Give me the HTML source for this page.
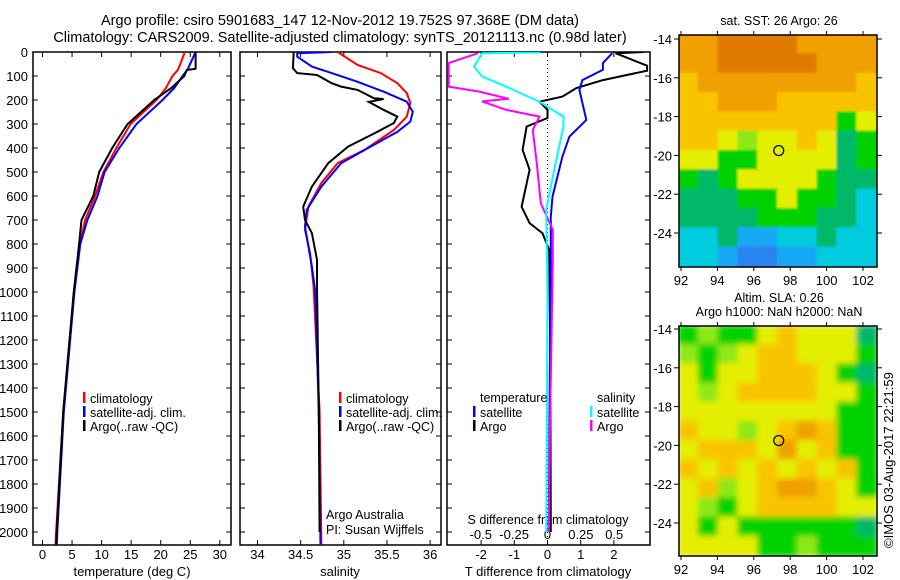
<!DOCTYPE html>
<html><head><meta charset="utf-8">
<style>
html,body{margin:0;padding:0;background:#fff;}
svg{display:block;font-family:"Liberation Sans",sans-serif;}
</style></head>
<body>
<svg id="fig" width="900" height="580" viewBox="0 0 900 580" xmlns="http://www.w3.org/2000/svg">
<defs>
<clipPath id="c1"><rect x="33" y="52" width="198" height="493"/></clipPath>
<clipPath id="c2"><rect x="240" y="52" width="201" height="493"/></clipPath>
<clipPath id="c3"><rect x="447" y="52" width="203" height="493"/></clipPath>
<clipPath id="cm1"><rect x="679" y="35" width="198" height="232"/></clipPath>
<clipPath id="cm2"><rect x="679" y="326" width="198" height="230"/></clipPath>
<filter id="blur2"><feGaussianBlur stdDeviation="3"/></filter>
<filter id="blur1"><feGaussianBlur stdDeviation="1"/></filter>
</defs>
<text x="340" y="25" font-size="14.5" text-anchor="middle">Argo profile: csiro 5901683_147 12-Nov-2012 19.752S 97.368E (DM data)</text>
<text x="340" y="42" font-size="14.5" text-anchor="middle">Climatology: CARS2009. Satellite-adjusted climatology: synTS_20121113.nc (0.98d later)</text>
<g id="g1"></g><g id="g2"></g><g id="g3"></g><g id="gm"></g>
<text transform="translate(893,548) rotate(-90)" font-size="13">©IMOS 03-Aug-2017 22:21:59</text>
</svg>
<script>
// ---------- data ----------
const tDepth = [0,70,75,100,150,200,300,400,500,600,700,800,1000,1500,2000,2060];
const tClim  = [24.1,23.0,22.9,22.0,20.9,19.3,14.9,12.5,10.3,8.9,7.2,6.3,5.3,3.5,2.3,2.2];
const tSat   = [25.9,24.6,24.5,23.7,22.3,20.3,15.9,13.0,10.5,9.3,7.6,6.4,5.4,3.6,2.5,2.4];
const tArgo  = [25.9,25.9,24.4,24.0,21.8,18.9,14.4,11.8,9.6,8.6,6.6,6.2,5.3,3.5,2.4,2.3];

const sClimDepth = [0,54,88,130,171,212,269,325,408,463,546,644,741,838,978,1500,2060];
const sClim      = [34.93,35.16,35.43,35.62,35.73,35.77,35.73,35.58,35.24,34.93,34.74,34.59,34.55,34.61,34.65,34.72,34.74];
const sSatDepth  = [0,5,19,61,88,124,165,207,249,290,333,394,463,561,658,728,894,1000,1500,2060];
const sSat       = [34.86,34.46,34.46,34.63,34.86,35.16,35.46,35.73,35.8,35.77,35.62,35.31,34.97,34.74,34.57,34.55,34.63,34.67,34.71,34.73];
const sArgoDepth = [0,67,88,96,130,144,158,193,196,208,241,269,296,332,394,463,561,644,700,755,866,978,1500,2000];
const sArgo      = [34.42,34.41,34.46,34.69,34.86,34.97,35.16,35.35,35.46,35.29,35.46,35.62,35.58,35.39,35.05,34.82,34.63,34.53,34.55,34.63,34.69,34.69,34.71,34.72];

const dTArgoDepth = [0,5,57,78,117,150,186,207,241,275,311,408,491,645,713,755,825,1200,2000];
const dTArgo      = [2.9,2.05,3.0,3.0,1.67,0.87,0.45,-0.24,0,0,-0.63,-0.75,-0.54,-0.78,-0.54,-0.15,0.05,0.08,0.1];
const dTSatDepth  = [5,46,74,117,158,283,353,436,603,686,880,1500,2000];
const dTSat       = [1.95,1.67,1.67,1.05,0.96,1.17,0.66,0.45,0.15,0.1,0.1,0.06,0.04];
const dSArgoDepth = [5,46,95,144,165,195,206,241,269,325,464,630,741,880,1500,2000];
const dSArgo      = [-0.52,-0.74,-0.74,-0.74,-0.51,-0.29,-0.49,-0.31,-0.06,-0.11,-0.08,-0.05,0.04,0.04,0.02,0.01];
const dSSatDepth  = [0,2,5,61,102,144,207,269,311,491,658,1000,2000];
const dSSat       = [-0.06,-0.06,-0.49,-0.55,-0.49,-0.31,-0.06,0.12,0.12,0.05,-0.01,0,-0.01];

const depthTicks = [0,100,200,300,400,500,600,700,800,900,1000,1100,1200,1300,1400,1500,1600,1700,1800,1900,2000];
const tTicks = [0,5,10,15,20,25,30];
const sTicks = [34,34.5,35,35.5,36];
const dTTicks = [-2,-1,0,1,2];
const dSTicks = [-0.5,-0.25,0,0.25,0.5];
const lonTicks = [92,94,96,98,100,102];
const latTicks = [-14,-16,-18,-20,-22,-24];

const sstGrid = [
"ooOOOOoooo","ooOOOOOooo","YooooooooY","YYoooYYYYY","YYYYYYYYgy",
"YYylyyYyGg","yyggyyyyGg","gGgyyyygGG","GGGggyggGc","GGGGgggGGc",
"ccGbbccGcc","ccbBBbbccc"];
const slaGrid = [
"glggyYyyyG","lglyYYyyyg","ygyyYYYygG","ylyYYYYyyg","yyyyyyyygg",
"YyylyYoYgg","yYYYyoyYgg","YyYyYyYyYg","yYlyYooYyg","ylgyYYYYyy",
"ygyggggggG","yyyygglggg"];
const palette = {O:"#e07a00",o:"#f0a000",Y:"#f8c400",y:"#e4ee00",l:"#8ee818",g:"#00d200",G:"#00b868",c:"#00cce0",b:"#18a8f4",B:"#2a84f0"};

// ---------- helpers ----------
const NS="http://www.w3.org/2000/svg";
const yOf = d => 52 + d*0.24;
const xT  = v => 42.5 + v*5.91;
const xS  = v => 257.5 + (v-34)*86.3;
const xdT = v => 547.5 + v*33.2;
const xdS = v => 547.5 + v*133.5;
const lonX1 = v => 681 + (v-92)*18.2;
const latY1 = v => 39 + (-14 - v)*19.4;
const latY2 = v => 329 + (-14 - v)*19.4;
function el(tag, attrs, parent){const e=document.createElementNS(NS,tag);for(const k in attrs)e.setAttribute(k,attrs[k]);parent.appendChild(e);return e;}
function txt(s, attrs, parent){const e=el('text',attrs,parent);e.textContent=s;return e;}
function line(xs, ds, xf, color, parent, name, clip){
  const p=xs.map((v,i)=>xf(v).toFixed(1)+','+yOf(ds[i]).toFixed(1)).join(' ');
  const e=el('polyline',{points:p,fill:'none',stroke:color,'stroke-width':2,'clip-path':clip},parent);
  
  
}
function frame(parent,x0,x1,name,showLabels){
  const r=el('rect',{x:x0,y:52,width:x1-x0,height:493,fill:'none',stroke:'#000','stroke-width':1.5},parent);
  
  
  depthTicks.forEach(d=>{
    const y=yOf(d);
    el('line',{x1:x0,x2:x0+5,y1:y,y2:y,stroke:'#000'},parent);
    el('line',{x1:x1-5,x2:x1,y1:y,y2:y,stroke:'#000'},parent);
    if(showLabels){
      const t=txt(String(d),{x:28,y:y+5,'font-size':13,'text-anchor':'end'},parent);
      
      
    }
  });
}
function xticks(parent,ticks,xf,y0,ylab,fmt){
  ticks.forEach(v=>{
    const x=xf(v);
    el('line',{x1:x,x2:x,y1:545,y2:540,stroke:'#000'},parent);
    el('line',{x1:x,x2:x,y1:52,y2:57,stroke:'#000'},parent);
    const t=txt(fmt?fmt(v):String(v),{x:x,y:ylab,'font-size':13,'text-anchor':'middle'},parent);
    
    
  });
}
function legend(parent,x,y,items){
  items.forEach((it,i)=>{
    const yy=y+i*14;
    el('rect',{x:x,y:yy-11,width:2.5,height:11,fill:it[1]},parent);
    const t=txt(it[0],{x:x+7,y:yy,'font-size':12.5},parent);
    
    
  });
}

// ---------- panel 1 ----------
const g1=document.getElementById('g1');
frame(g1,33,231,'temperature-panel-frame',true);
xticks(g1,tTicks,xT,0,559);
txt('temperature (deg C)',{x:132,y:576,'font-size':13,'text-anchor':'middle',},g1);
line(tClim,tDepth,xT,'#ff0000',g1,'temp-climatology-line','url(#c1)');
line(tSat,tDepth,xT,'#0000ff',g1,'temp-satellite-line','url(#c1)');
line(tArgo,tDepth,xT,'#000000',g1,'temp-argo-line','url(#c1)');
legend(g1,83,403,[['climatology','#f00'],['satellite-adj. clim.','#00f'],['Argo(..raw -QC)','#000']]);

// ---------- panel 2 ----------
const g2=document.getElementById('g2');
frame(g2,240,441,'salinity-panel-frame',false);
xticks(g2,sTicks,xS,0,559);
txt('salinity',{x:340,y:576,'font-size':13,'text-anchor':'middle',},g2);
line(sClim,sClimDepth,xS,'#ff0000',g2,'sal-climatology-line','url(#c2)');
line(sSat,sSatDepth,xS,'#0000ff',g2,'sal-satellite-line','url(#c2)');
line(sArgo,sArgoDepth,xS,'#000000',g2,'sal-argo-line','url(#c2)');
legend(g2,339,403,[['climatology','#f00'],['satellite-adj. clim.','#00f'],['Argo(..raw -QC)','#000']]);
txt('Argo Australia',{x:326,y:519,'font-size':12.5,},g2);
txt('PI: Susan Wijffels',{x:326,y:534,'font-size':12.5,},g2);

// ---------- panel 3 ----------
const g3=document.getElementById('g3');
frame(g3,447,650,'difference-panel-frame',false);
el('line',{x1:xdT(0),x2:xdT(0),y1:52,y2:545,stroke:'#000','stroke-dasharray':'1,3'},g3);
xticks(g3,dTTicks,xdT,0,559);
dSTicks.forEach(v=>{
  const t=txt(String(v),{x:xdS(v),y:539,'font-size':13,'text-anchor':'middle'},g3);
  
  
});
txt('S difference from climatology',{x:548,y:524,'font-size':12.5,'text-anchor':'middle',},g3);
txt('T difference from climatology',{x:548,y:576,'font-size':13,'text-anchor':'middle',},g3);
line(dTArgo,dTArgoDepth,xdT,'#000000',g3,'tdiff-argo-line','url(#c3)');
line(dTSat,dTSatDepth,xdT,'#0000ff',g3,'tdiff-satellite-line','url(#c3)');
line(dSArgo,dSArgoDepth,xdS,'#ff00ff',g3,'sdiff-argo-line','url(#c3)');
line(dSSat,dSSatDepth,xdS,'#00ffff',g3,'sdiff-satellite-line','url(#c3)');
txt('temperature',{x:480,y:402,'font-size':12.5,},g3);
txt('salinity',{x:597,y:402,'font-size':12.5,},g3);
legend(g3,473,417,[['satellite','#00f'],['Argo','#000']]);
legend(g3,590,417,[['satellite','#0ff'],['Argo','#f0f']]);

// ---------- maps ----------
const gm=document.getElementById('gm');
function map(grid,y0,h,clip,latY,blur,name){
  const g=el('g',{'clip-path':clip},gm);
  const inner=el('g',{filter:blur},g);
  const cw=198/10, ch=h/12;
  grid.forEach((row,r)=>{[...row].forEach((c,k)=>{
    el('rect',{x:679+k*cw-1,y:y0+r*ch-1,width:cw+2,height:ch+2,fill:palette[c]},inner);
  });});
  const f=el('rect',{x:679,y:y0,width:198,height:h,fill:'none',stroke:'#000','stroke-width':1.5},gm);
  
  
  latTicks.forEach(v=>{
    const y=latY(v);
    el('line',{x1:679,x2:674,y1:y,y2:y,stroke:'#000'},gm);
    el('line',{x1:877,x2:882,y1:y,y2:y,stroke:'#000'},gm);
    const t=txt(String(v),{x:672,y:y+5,'font-size':13,'text-anchor':'end'},gm);
    
    
  });
  lonTicks.forEach(v=>{
    const x=lonX1(v);
    el('line',{x1:x,x2:x,y1:y0+h,y2:y0+h+4,stroke:'#000'},gm);
    el('line',{x1:x,x2:x,y1:y0,y2:y0-4,stroke:'#000'},gm);
    const t=txt(String(v),{x:x,y:y0+h+18,'font-size':13,'text-anchor':'middle'},gm);
    
    
  });
  const c=el('circle',{cx:lonX1(97.37),cy:latY(-19.75),r:5,fill:'none',stroke:'#000','stroke-width':1.2},gm);
  
  
}
map(sstGrid,35,232,'url(#cm1)',latY1,'url(#blur1)','sst-map-frame');
map(slaGrid,326,230,'url(#cm2)',latY2,'url(#blur2)','sla-map-frame');
txt('sat. SST: 26 Argo: 26',{x:779,y:25,'font-size':12.5,'text-anchor':'middle',},gm);
txt('Altim. SLA: 0.26',{x:779,y:302,'font-size':12.5,'text-anchor':'middle',},gm);
txt('Argo h1000: NaN h2000: NaN',{x:779,y:316,'font-size':12.5,'text-anchor':'middle',},gm);
</script>
</body></html>
